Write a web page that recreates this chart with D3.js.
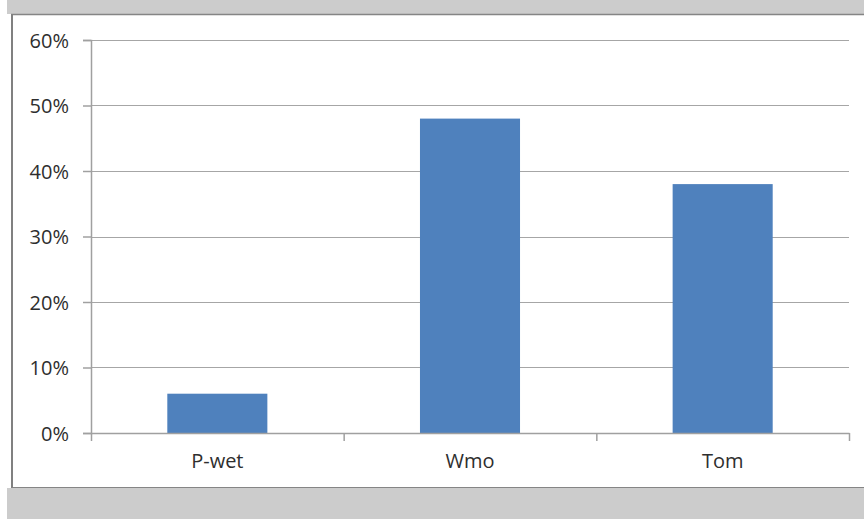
<!DOCTYPE html>
<html>
<head>
<meta charset="utf-8">
<script src="https://cdn.jsdelivr.net/npm/d3@7"></script>
<style>
  body { margin: 0; background: #fff; }
  svg text { font-family: "Open Sans", sans-serif; fill: #2e2e2e; }
</style>
</head>
<body>
<div id="chart"></div>
<script>
// data
var categories = ["P-wet", "Wmo", "Tom"];
var values = [0.06, 0.48, 0.38];
var yTicks = [0, 0.1, 0.2, 0.3, 0.4, 0.5, 0.6];

var width = 864, height = 519;
var margin = {left: 91, right: 15, top: 40, bottom: 86};
var plotW = width - margin.left - margin.right,
    plotH = height - margin.top - margin.bottom;

var svg = d3.select("#chart").append("svg")
    .attr("width", width)
    .attr("height", height);

// grey frame bands and border, like the screenshot
svg.append("rect").attr("x", 7).attr("y", 0).attr("width", width - 7).attr("height", 14).attr("fill", "#cccccc");
svg.append("rect").attr("x", 7).attr("y", 488).attr("width", width - 7).attr("height", height - 488).attr("fill", "#cccccc");
svg.append("line").attr("x1", 11).attr("x2", width).attr("y1", 14.5).attr("y2", 14.5)
    .attr("stroke", "#858585").attr("stroke-width", 1.5);
svg.append("line").attr("x1", 11).attr("x2", width).attr("y1", 487.5).attr("y2", 487.5)
    .attr("stroke", "#858585").attr("stroke-width", 1);
svg.append("line").attr("x1", 12).attr("x2", 12).attr("y1", 14).attr("y2", 488)
    .attr("stroke", "#808080").attr("stroke-width", 2);

var g = svg.append("g")
    .attr("transform", "translate(" + margin.left + "," + margin.top + ")");

// set the ranges
var pad = 0.604;
var x = d3.scaleBand()
    .domain(categories)
    .range([0, plotW])
    .paddingInner(pad)
    .paddingOuter(pad / 2);

var xb = d3.scaleLinear()
    .domain([0, categories.length])
    .range([0, plotW]);

var y = d3.scaleLinear()
    .domain([0, 0.6])
    .range([plotH, 0]);

// gridlines
g.selectAll(".grid")
    .data(yTicks.slice(1))
    .enter().append("line")
    .attr("class", "grid")
    .attr("x1", 0)
    .attr("x2", plotW)
    .attr("y1", function(d) { return Math.round(y(d)) + 0.5; })
    .attr("y2", function(d) { return Math.round(y(d)) + 0.5; })
    .attr("stroke", "#a6a6a6")
    .attr("stroke-width", 1);

// bars
g.selectAll(".bar")
    .data(values)
    .enter().append("rect")
    .attr("class", "bar")
    .attr("x", function(d, i) { return x(categories[i]); })
    .attr("width", x.bandwidth())
    .attr("y", function(d) { return y(d); })
    .attr("height", function(d) { return plotH - y(d); })
    .attr("fill", "#4f81bd");

// y axis
var yAxis = g.append("g")
    .call(d3.axisLeft(y)
        .tickValues(yTicks)
        .tickFormat(d3.format(".0%"))
        .tickSize(8)
        .tickPadding(14));
yAxis.select(".domain").attr("stroke", "#a0a0a0").attr("stroke-width", 1.5);
yAxis.selectAll(".tick line").attr("stroke", "#a0a0a0").attr("stroke-width", 1.5);
yAxis.selectAll(".tick text").style("font-size", "20px").attr("dy", "0.36em");

// x axis: boundary ticks
var xAxis = g.append("g")
    .attr("transform", "translate(0," + plotH + ")")
    .call(d3.axisBottom(xb)
        .tickValues(d3.range(categories.length + 1))
        .tickFormat("")
        .tickSizeInner(8)
        .tickSizeOuter(0));
xAxis.select(".domain").attr("stroke", "#a0a0a0").attr("stroke-width", 1.5);
xAxis.selectAll(".tick line").attr("stroke", "#a0a0a0").attr("stroke-width", 1.5);

// x axis: category labels
var xLab = g.append("g")
    .attr("transform", "translate(0," + plotH + ")")
    .call(d3.axisBottom(x).tickSize(0).tickPadding(21));
xLab.select(".domain").remove();
xLab.selectAll(".tick text").style("font-size", "20px");
</script>
</body>
</html>
